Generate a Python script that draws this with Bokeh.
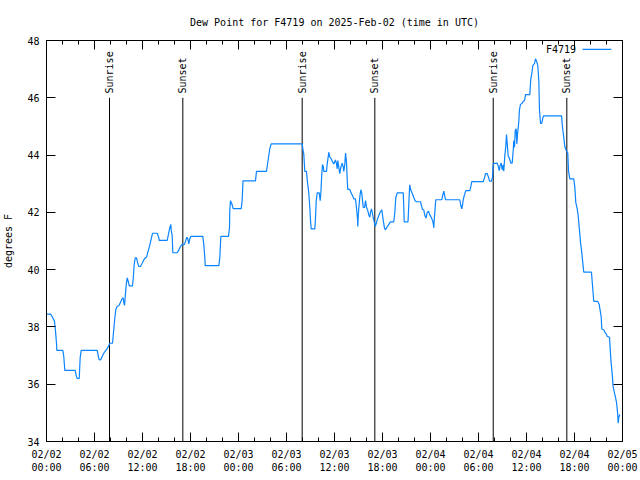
import math
from bokeh.plotting import figure
from bokeh.models import Range1d, FixedTicker, LinearAxis, Label
from bokeh.core.properties import value
from bokeh.embed import file_html
from bokeh.resources import INLINE

# hours since 2025-02-02 00:00 UTC
hours = [0.0, 0.5, 0.75, 1.0, 1.12, 1.25, 1.29, 2.04, 2.16, 2.29, 3.59, 3.71, 3.84, 4.09, 4.21, 4.34,
         6.34, 6.46, 6.59, 6.79, 6.96, 7.16, 7.41, 7.59, 7.79, 7.91, 8.25, 8.34, 8.5, 8.66, 8.84, 9.06,
         9.25, 9.46, 9.59, 9.66, 9.75, 9.84, 9.96, 10.09, 10.25, 10.34, 10.75, 10.84, 10.96, 11.09, 11.25,
         11.41, 11.54, 11.75, 11.96, 12.16, 12.34, 12.5, 12.66, 12.84, 13.0, 13.12, 13.25, 13.84, 14.04,
         14.09, 15.09, 15.21, 15.34, 15.41, 15.54, 15.59, 15.71, 15.79, 16.34, 16.54, 16.75, 16.96, 17.25,
         17.41, 17.54, 17.66, 17.79, 17.91, 18.04, 19.54, 19.66, 19.79, 19.84, 21.54, 21.66, 21.79, 22.75,
         22.88, 22.91, 23.0, 23.16, 23.34, 24.34, 24.46, 24.56, 26.12, 26.25, 27.5, 27.66, 27.91, 28.09,
         31.96, 32.04, 32.16, 32.29, 32.5, 32.62, 32.79, 32.91, 33.0, 33.09, 33.54, 33.62, 33.71, 33.84,
         34.09, 34.21, 34.29, 34.38, 34.5, 34.62, 34.66, 35.0, 35.09, 35.21, 35.29, 35.38, 35.59, 35.71,
         35.91, 36.12, 36.25, 36.34, 36.41, 36.54, 36.66, 36.79, 36.96, 37.09, 37.16, 37.29, 37.38, 37.5,
         37.59, 37.66, 37.91, 38.09, 38.25, 38.41, 38.62, 38.75, 38.88, 38.91, 38.96, 39.04, 39.16, 39.29,
         39.41, 39.5, 39.59, 39.75, 39.88, 40.0, 40.16, 40.29, 40.41, 40.5, 40.62, 40.75, 40.91, 41.09,
         41.21, 41.34, 41.54, 41.75, 41.91, 42.09, 42.25, 42.38, 42.59, 42.79, 43.0, 43.41, 43.54, 43.66,
         43.84, 44.59, 44.66, 44.71, 45.19, 45.29, 45.4, 45.54, 45.71, 45.91, 46.09, 46.25, 46.75, 46.88,
         47.0, 47.16, 47.29, 47.44, 47.59, 47.75, 47.91, 48.09, 48.25, 48.34, 48.41, 48.5, 48.59, 48.66,
         49.41, 49.54, 49.66, 49.75, 49.88, 51.66, 51.79, 51.91, 52.0, 52.09, 52.25, 52.41, 52.91, 53.04,
         53.16, 54.59, 54.71, 54.88, 55.09, 55.25, 55.38, 55.62, 55.75, 55.84, 56.34, 56.46, 56.59, 56.71,
         56.84, 56.96, 57.09, 57.16, 57.29, 57.41, 57.5, 57.59, 57.71, 57.88, 58.04, 58.21, 58.34, 58.41,
         58.5, 58.59, 58.71, 58.79, 58.88, 58.96, 59.04, 59.12, 59.25, 59.46, 59.59, 59.75, 59.88, 60.41,
         60.54, 60.66, 60.79, 61.0, 61.12, 61.25, 61.41, 61.54, 61.62, 61.75, 61.91, 62.04, 62.16, 64.38,
         64.5, 64.66, 64.79, 64.96, 65.16, 65.25, 65.41, 65.91, 66.04, 66.16, 66.34, 66.46, 66.62, 66.75,
         66.88, 67.0, 67.16, 68.12, 68.25, 68.41, 68.91, 69.09, 69.21, 69.34, 69.41, 69.66, 69.79, 70.0,
         70.09, 70.38, 70.41, 70.5, 70.59, 70.71, 70.84, 71.0, 71.12, 71.25, 71.34, 71.41, 71.46, 71.54,
         71.66]
dewpoint = [38.45, 38.45, 38.34, 38.2, 37.87, 37.43, 37.18, 37.18, 36.97, 36.48, 36.48, 36.3, 36.2, 36.2, 36.93, 37.18,
            37.18, 37.0, 36.85, 36.86, 36.97, 37.08, 37.18, 37.24, 37.35, 37.43, 37.43, 37.7, 38.2, 38.6, 38.72, 38.75,
            38.86, 38.98, 39.02, 38.86, 38.75, 39.04, 39.48, 39.71, 39.56, 39.43, 39.43, 39.68, 40.18, 40.41, 40.41,
            40.22, 40.11, 40.11, 40.22, 40.34, 40.41, 40.43, 40.6, 40.78, 40.96, 41.11, 41.27, 41.27, 41.11,
            41.02, 41.02, 41.19, 41.37, 41.46, 41.58, 41.37, 41.19, 40.59, 40.59, 40.69, 40.81, 40.88, 40.88,
            41.02, 41.13, 41.08, 40.9, 41.08, 41.16, 41.16, 40.88, 40.41, 40.14, 40.14, 40.41, 41.16, 41.16,
            41.48, 42.06, 42.41, 42.3, 42.13, 42.13, 42.41, 43.1, 43.1, 43.43, 43.43, 43.75, 44.22, 44.39,
            44.39, 44.22, 44.04, 43.43, 43.43, 43.05, 42.67, 42.18, 41.72, 41.42, 41.42, 41.77, 42.38, 42.68,
            42.68, 42.41, 42.65, 43.17, 43.67, 43.58, 43.43, 43.43, 43.69, 43.93, 44.1, 43.95, 43.87, 43.79,
            43.69, 43.83, 43.69, 43.52, 43.81, 43.58, 43.35, 43.58, 43.72, 43.58, 43.43, 43.69, 44.07, 43.75,
            43.14, 42.8, 42.8, 42.67, 42.59, 42.47, 42.47, 42.16, 41.77, 41.51, 41.83, 42.16, 42.53, 42.79,
            42.67, 42.41, 42.18, 42.16, 42.41, 42.18, 42.06, 41.91, 41.83, 42.0, 42.12, 41.95, 41.74, 41.51,
            41.6, 41.74, 41.89, 42.03, 42.09, 41.72, 41.45, 41.39, 41.5, 41.58, 41.67, 41.67, 42.0, 42.5,
            42.68, 42.68, 42.17, 41.67, 41.67, 42.3, 42.96, 42.78, 42.67, 42.52, 42.4, 42.37, 42.37, 42.22,
            42.1, 42.09, 41.89, 41.8, 42.0, 42.04, 41.92, 41.83, 41.72, 41.62, 41.46, 41.86, 42.2, 42.44,
            42.44, 42.61, 42.74, 42.61, 42.44, 42.44, 42.24, 42.12, 42.24, 42.44, 42.62, 42.76, 42.76, 42.9,
            43.07, 43.07, 43.17, 43.35, 43.35, 43.23, 43.09, 43.09, 43.23, 43.7, 43.72, 43.62, 43.46, 43.64,
            43.72, 43.48, 43.66, 43.44, 43.98, 44.3, 44.72, 44.39, 43.98, 43.87, 43.72, 43.72, 44.16, 44.51,
            44.27, 44.86, 44.92, 44.39, 44.74, 44.95, 45.18, 45.58, 45.77, 45.81, 45.88, 45.9, 46.11, 46.11,
            46.66, 46.84, 47.13, 47.19, 47.36, 47.28, 47.13, 46.6, 45.59, 45.11, 45.11, 45.3, 45.37, 45.37,
            44.97, 44.62, 44.3, 44.16, 44.07, 43.46, 43.17, 43.17, 42.88, 42.35, 42.12, 41.89, 41.39, 40.96,
            40.67, 40.34, 39.91, 39.91, 39.45, 38.89, 38.89, 38.78, 38.57, 38.34, 37.93, 37.9, 37.82, 37.74,
            37.67, 37.64, 37.47, 37.06, 36.71, 36.36, 35.9, 35.69, 35.55, 35.37, 35.14, 34.91, 34.64, 34.85,
            34.94]

sun_times = [7.875, 17.04, 31.96, 41.04, 55.84, 65.04]
sun_labels = ["Sunrise", "Sunset", "Sunrise", "Sunset", "Sunrise", "Sunset"]

x_ticks = [0, 6, 12, 18, 24, 30, 36, 42, 48, 54, 60, 66, 72]
x_tick_labels = ["02/02\n00:00", "02/02\n06:00", "02/02\n12:00", "02/02\n18:00",
                 "02/03\n00:00", "02/03\n06:00", "02/03\n12:00", "02/03\n18:00",
                 "02/04\n00:00", "02/04\n06:00", "02/04\n12:00", "02/04\n18:00",
                 "02/05\n00:00"]
x_minor = list(range(0, 73, 2))
y_ticks = [34, 36, 38, 40, 42, 44, 46, 48]

FONT = "DejaVu Sans Mono"
FS = "10px"

p = figure(width=640, height=480, output_backend="svg", toolbar_location=None,
           x_range=Range1d(0, 72), y_range=Range1d(34, 48),
           min_border_left=46, min_border_right=18, min_border_top=40, min_border_bottom=39,
           title="Dew Point for F4719 on 2025-Feb-02 (time in UTC)")
p.title.align = "center"
p.title.text_font = FONT
p.title.text_font_size = FS
p.title.text_font_style = "normal"
p.title.text_color = "black"
p.title.standoff = 25
p.xgrid.visible = False
p.ygrid.visible = False
p.outline_line_color = "black"
p.outline_line_width = 1
p.background_fill_color = "white"
p.border_fill_color = "white"

xt = FixedTicker(ticks=x_ticks, minor_ticks=x_minor)
yt = FixedTicker(ticks=y_ticks, minor_ticks=[])

xa = p.xaxis[0]
xa.ticker = xt
xa.major_label_overrides = {t: l for t, l in zip(x_ticks, x_tick_labels)}
ya = p.yaxis[0]
ya.ticker = yt
ya.axis_label = "degrees F"
ya.axis_label_text_font = FONT
ya.axis_label_text_font_size = FS
ya.axis_label_text_font_style = "normal"
ya.axis_label_text_color = "black"
ya.axis_label_standoff = 10

for ax in (xa, ya):
    ax.major_tick_in = 9
    ax.major_tick_out = 0
    ax.minor_tick_in = 4
    ax.minor_tick_out = 0
    ax.major_label_text_font = FONT
    ax.major_label_text_font_size = FS
    ax.major_label_text_color = "black"
    ax.axis_line_color = "black"
    ax.major_label_standoff = 7

top = LinearAxis(ticker=xt, major_tick_in=9, major_tick_out=0,
                 minor_tick_in=4, minor_tick_out=0, major_label_standoff=0,
                 major_label_overrides={t: "" for t in x_ticks})
right = LinearAxis(ticker=yt, major_tick_in=9, major_tick_out=0,
                   minor_tick_in=0, minor_tick_out=0, major_label_standoff=0,
                   major_label_overrides={t: "" for t in y_ticks})
p.add_layout(top, "above")
p.add_layout(right, "right")

# sunrise / sunset markers
p.segment(x0=sun_times, y0=[34] * len(sun_times), x1=sun_times, y1=[46] * len(sun_times),
          line_color="black", line_width=1)
p.text(x=sun_times, y=[46.15] * len(sun_times), text=sun_labels, angle=math.pi / 2,
       text_align="left", text_baseline="middle", text_font=value(FONT),
       text_font_size="10px", text_color="black")

p.line(hours, dewpoint, line_color="#0a84ff", line_width=1.2)

# legend (text then sample line, gnuplot style)
p.add_layout(Label(x=66.2, y=47.69, text="F4719", text_align="right", text_baseline="middle",
                   text_font=FONT, text_font_size="10px", text_color="black"))
p.segment(x0=[67.0], y0=[47.69], x1=[70.6], y1=[47.69], line_color="#0a84ff", line_width=1.2)

open("out.html", "w").write(file_html(p, INLINE))
